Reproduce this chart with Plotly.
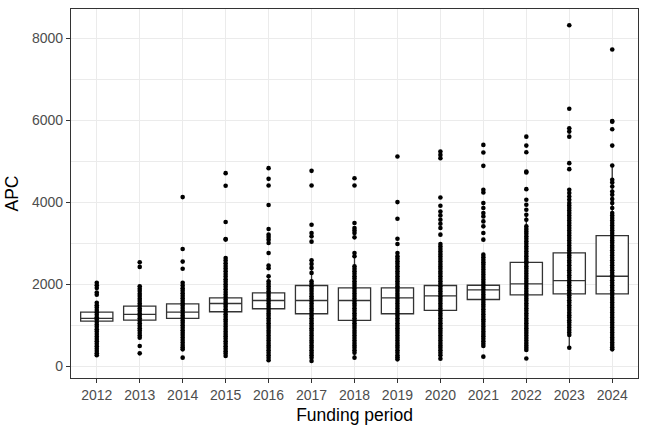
import plotly.graph_objects as go

years = ["2012", "2013", "2014", "2015", "2016", "2017", "2018",
         "2019", "2020", "2021", "2022", "2023", "2024"]

# box statistics
q1 = [1101, 1126, 1167, 1330, 1403, 1281, 1119, 1281, 1362, 1629, 1743, 1767, 1767]
med = [1167, 1264, 1320, 1532, 1605, 1605, 1605, 1670, 1719, 1864, 2010, 2091, 2196]
q3 = [1320, 1466, 1524, 1670, 1791, 1970, 1913, 1913, 1970, 1977, 2536, 2764, 3185]

# APC values per funding period
apc_2012 = [2035, 1975, 1910, 1800, 1745,
            1548, 1490, 1436, 1372, 1318, 1255, 1196, 1140, 1082, 1020, 962, 905, 846,
            788, 725, 668, 610, 548, 492, 430, 372, 318, 270]
apc_2013 = [2536, 2424,
            1953, 1892, 1835, 1770, 1712, 1650, 1592, 1530, 1474, 1410, 1352, 1290, 1232,
            1170, 1112, 1050, 992, 930, 872, 810, 752, 698, 494, 316]
apc_2014 = [4126, 2862, 2553, 2380,
            2035, 1972, 1905, 1845, 1782, 1720, 1662, 1600, 1540, 1482, 1420, 1362, 1300,
            1240, 1182, 1120, 1060, 1000, 942, 880, 820, 762, 700, 640, 582, 520, 462,
            413, 211]
apc_2015 = [4710, 4401, 3517, 3105, 3090,
            2640, 2580, 2512, 2446, 2382, 2320, 2252, 2190, 2124, 2060, 2000, 1940, 1876,
            1812, 1750, 1690, 1630, 1570, 1510, 1450, 1390, 1330, 1270, 1210, 1150, 1090,
            1030, 970, 910, 850, 790, 730, 670, 610, 550, 490, 430, 370, 310, 250]
apc_2016 = [4831, 4571, 4409, 3932, 3348, 3210, 3153, 3088, 3007, 2764, 2456, 2391, 2196,
            2074, 2012, 1950, 1890, 1830, 1770, 1712, 1650, 1590, 1530, 1470, 1412, 1350,
            1290, 1232, 1170, 1110, 1050, 990, 932, 870, 810, 750, 690, 632, 570, 510,
            450, 392, 330, 270, 210, 146]
apc_2017 = [4766, 4409, 3453, 3250, 3169, 3040, 2586, 2497, 2400, 2278,
            2074, 2014, 1952, 1892, 1834, 1772, 1710, 1652, 1592, 1530, 1472, 1410, 1352,
            1290, 1230, 1172, 1110, 1052, 990, 930, 872, 810, 752, 690, 630, 572, 510,
            452, 390, 330, 272, 210, 129]
apc_2018 = [4587, 4409, 3494, 3372, 3314, 3250, 3144, 2764, 2683,
            2440, 2380, 2320, 2258, 2196, 2138, 2076, 2016, 1956, 1896, 1836, 1776, 1714,
            1654, 1594, 1534, 1474, 1414, 1354, 1292, 1232, 1172, 1112, 1052, 992, 932,
            870, 810, 750, 690, 630, 570, 510, 450, 392, 332, 211]
apc_2019 = [5114, 4004, 3599, 3112, 2983, 2764,
            2683, 2622, 2560, 2500, 2440, 2378, 2318, 2256, 2196, 2136, 2076, 2014, 1954,
            1894, 1834, 1772, 1712, 1652, 1592, 1530, 1470, 1410, 1350, 1290, 1230, 1170,
            1110, 1050, 990, 930, 870, 810, 750, 690, 630, 570, 510, 450, 390, 330, 270,
            220, 170]
apc_2020 = [5236, 5155, 5074, 4117, 3915, 3776, 3680, 3575, 3477, 3372, 3210,
            2983, 2920, 2860, 2800, 2740, 2680, 2618, 2556, 2496, 2436, 2376, 2314, 2254,
            2194, 2134, 2072, 2012, 1952, 1892, 1832, 1770, 1710, 1650, 1590, 1530, 1470,
            1410, 1350, 1290, 1230, 1170, 1110, 1050, 990, 930, 870, 810, 750, 690, 630,
            570, 510, 450, 390, 330, 270, 187]
apc_2021 = [5398, 5212, 4888, 4304, 4239, 3980, 3859, 3737, 3655, 3533, 3412, 3250, 3088,
            2723, 2662, 2600, 2540, 2480, 2420, 2358, 2298, 2236, 2176, 2116, 2054, 1994,
            1934, 1874, 1812, 1752, 1692, 1632, 1570, 1510, 1450, 1390, 1330, 1270, 1210,
            1150, 1090, 1030, 970, 910, 850, 790, 730, 670, 610, 550, 494, 235]
apc_2022 = [5600, 5382, 5220, 4750, 4726, 4320, 4061, 3939, 3818, 3696, 3575,
            3412, 3350, 3290, 3230, 3170, 3108, 3048, 2988, 2926, 2866, 2806, 2746, 2684,
            2624, 2564, 2504, 2442, 2382, 2322, 2262, 2200, 2140, 2080, 2020, 1958, 1898,
            1838, 1778, 1716, 1656, 1596, 1536, 1474, 1414, 1354, 1294, 1232, 1172, 1112,
            1052, 990, 930, 870, 810, 750, 690, 630, 570, 510, 450, 400, 190]
apc_2023 = [8316, 6281, 5804, 5723, 5600, 4953, 4807, 4304, 4223, 4141, 4061,
            3980, 3920, 3858, 3798, 3736, 3676, 3616, 3554, 3494, 3432, 3372, 3312, 3250,
            3190, 3128, 3068, 3008, 2946, 2886, 2826, 2764, 2704, 2644, 2582, 2522, 2462,
            2400, 2340, 2280, 2218, 2158, 2098, 2036, 1976, 1916, 1854, 1794, 1734, 1672,
            1612, 1552, 1490, 1430, 1370, 1308, 1248, 1188, 1126, 1066, 1006, 944, 884,
            824, 762, 454]
apc_2024 = [7723, 5982, 5965, 5780, 5382, 4896, 4547, 4482, 4384, 4263, 4182, 4077, 3980,
            3859, 3737, 3676, 3616, 3556, 3494, 3434, 3374, 3312, 3252, 3192, 3130, 3070,
            3010, 2948, 2888, 2828, 2766, 2706, 2646, 2584, 2524, 2464, 2402, 2342, 2282,
            2220, 2160, 2100, 2038, 1978, 1918, 1856, 1796, 1736, 1674, 1614, 1554, 1492,
            1432, 1372, 1310, 1250, 1190, 1128, 1068, 1008, 946, 886, 826, 764, 704, 644,
            582, 522, 462, 413]

apc = [apc_2012, apc_2013, apc_2014, apc_2015, apc_2016, apc_2017, apc_2018,
       apc_2019, apc_2020, apc_2021, apc_2022, apc_2023, apc_2024]

# whisker ends: most extreme points within 1.5 * IQR
lo_f, hi_f = [], []
for vals, a, b in zip(apc, q1, q3):
    iqr = b - a
    lo_f.append(min(v for v in vals if v >= a - 1.5 * iqr))
    hi_f.append(max(v for v in vals if v <= b + 1.5 * iqr))

FONT = "Liberation Sans, Arial, sans-serif"

fig = go.Figure()
fig.add_trace(go.Box(
    x=years, q1=q1, median=med, q3=q3, lowerfence=lo_f, upperfence=hi_f,
    boxpoints=False, width=0.75, whiskerwidth=0,
    fillcolor="white", line=dict(color="#333333", width=1.3),
    showlegend=False, hoverinfo="skip"))

xs, ys = [], []
for yr, vals in zip(years, apc):
    xs += [yr] * len(vals)
    ys += vals
fig.add_trace(go.Scatter(
    x=xs, y=ys, mode="markers",
    marker=dict(color="black", size=4.6, line=dict(width=0)),
    showlegend=False, hoverinfo="skip"))

fig.update_layout(
    width=648, height=432,
    margin=dict(l=71, r=10, t=9, b=54),
    paper_bgcolor="white", plot_bgcolor="white",
    font=dict(family=FONT, color="black"),
    xaxis=dict(
        type="category", categoryorder="array", categoryarray=years,
        range=[-0.6, 12.6],
        showgrid=True, gridcolor="#EBEBEB", gridwidth=1.3,
        showline=True, mirror=True, linecolor="#333333", linewidth=1.3,
        ticks="outside", ticklen=4, tickwidth=1.3, tickcolor="#333333",
        tickfont=dict(size=14, color="#4D4D4D", family=FONT),
        title=dict(text="Funding period", font=dict(size=17.5, family=FONT, color="black"),
                   standoff=6),
        zeroline=False,
    ),
    yaxis=dict(
        range=[-285, 8712],
        tick0=0, dtick=2000,
        showgrid=True, gridcolor="#EBEBEB", gridwidth=1.3,
        minor=dict(dtick=1000, showgrid=True, gridcolor="#EBEBEB", gridwidth=0.7),
        showline=True, mirror=True, linecolor="#333333", linewidth=1.3,
        ticks="outside", ticklen=4, tickwidth=1.3, tickcolor="#333333",
        tickfont=dict(size=14, color="#4D4D4D", family=FONT),
        title=dict(text="APC", font=dict(size=17.5, family=FONT, color="black"),
                   standoff=8),
        zeroline=False,
    ),
)

fig.write_html("out.html")
